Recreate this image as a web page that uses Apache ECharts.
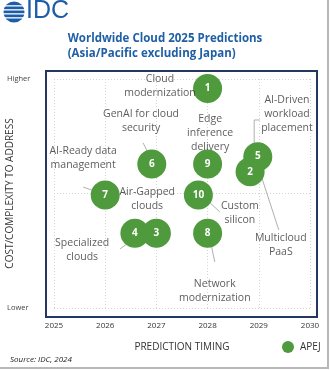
<!DOCTYPE html>
<html><head><meta charset="utf-8">
<script src="https://cdn.jsdelivr.net/npm/echarts@6/dist/echarts.min.js"></script>
<style>html,body{margin:0;padding:0;background:#fff}#c{width:330px;height:370px}</style>
</head><body><div id="c"></div>
<script>
// ---- data ----
const yearTicks = [2025, 2026, 2027, 2028, 2029, 2030];
const bubbleIds = [1, 4, 3, 5, 2, 6, 7, 8, 9, 10];
const bubbleX = [2028.0, 2026.58, 2027.0, 2028.98, 2028.83, 2026.91, 2026.0, 2028.0, 2028.0, 2027.82];
const bubbleY = [9.59, 3.26, 3.26, 6.61, 5.95, 6.29, 4.93, 3.26, 6.29, 4.93];
const labelTexts = ["Cloud\nmodernization", "GenAI for cloud\nsecurity", "AI-Ready data\nmanagement", "Air-Gapped\nclouds", "Edge\ninference\ndelivery", "AI-Driven\nworkload\nplacement", "Custom\nsilicon", "Multicloud\nPaaS", "Network\nmodernization", "Specialized\nclouds"];
const labelX = [2027.07, 2026.70, 2025.57, 2026.82, 2028.05, 2029.55, 2028.63, 2029.43, 2028.14, 2025.55];
const labelY = [9.69, 8.17, 6.53, 4.74, 7.62, 8.47, 4.15, 2.75, 0.74, 2.53];
const leaderLines = [
  [[2026.74, 7.21], [2026.84, 6.77]],
  [[2025.57, 5.28], [2025.84, 5.07]],
  [[2029.02, 8.21], [2028.91, 8.21], [2028.91, 7.12]],
  [[2028.05, 4.59], [2028.24, 4.19]],
  [[2029.06, 5.68], [2029.39, 3.41]],
  [[2028.03, 3.19], [2028.14, 2.01]],
  [[2026.29, 2.58], [2026.42, 2.79]]
];
const yTickNames = {0: "Lower", 10: "Higher"};
const seriesName = "APEJ";

const GREEN = "#4e9a3c";
const NAVY = "#24385f";
const FONT = "Open Sans";
const chart = echarts.init(document.getElementById('c'), null, {renderer: 'canvas'});
chart.setOption({
  animation: false,
  textStyle: {fontFamily: FONT},
  grid: {left: 54, right: 20, top: 79, bottom: 62, containLabel: false, outerBoundsMode: 'none'},
  xAxis: {type: 'value', min: yearTicks[0], max: yearTicks[yearTicks.length - 1], interval: 1,
     axisLine: {show: false}, axisTick: {show: false},
     axisLabel: {fontSize: 8, color: '#333', margin: 14, formatter: v => yearTicks.includes(v) ? String(v) : ''},
     splitLine: {show: true, lineStyle: {color: '#d4d4d4', type: [1, 2], width: 1}},
     name: 'PREDICTION TIMING', nameLocation: 'middle', nameGap: 34, nameMoveOverlap: false,
     nameTextStyle: {fontSize: 10, color: '#333', fontFamily: FONT}},
  yAxis: {type: 'value', min: 0, max: 10, interval: 5,
     axisLine: {show: false}, axisTick: {show: false},
     axisLabel: {fontSize: 7.5, color: '#444', align: 'left', margin: 47, formatter: v => yTickNames[v] || ''},
     splitLine: {show: true, lineStyle: {color: '#d4d4d4', type: [1, 2], width: 1}},
     name: 'COST/COMPLEXITY TO ADDRESS', nameLocation: 'middle', nameGap: 39, nameRotate: 90, nameMoveOverlap: false,
     nameTextStyle: {fontSize: 10, color: '#333', fontFamily: FONT}},
  legend: {
    data: [{name: seriesName, icon: 'circle'}], left: 277, top: 336, itemWidth: 12, itemHeight: 12, itemGap: 4,
    textStyle: {fontSize: 10, color: '#333', fontFamily: FONT, padding: [0, 0, 0, 1]}
  },
  graphic: {elements: [
    {type: 'rect', z: 10, shape: {x: 45, y: 70, width: 273, height: 2}, style: {fill: NAVY}},
    {type: 'rect', z: 10, shape: {x: 45, y: 316, width: 273, height: 2}, style: {fill: NAVY}},
    {type: 'rect', z: 10, shape: {x: 45, y: 70, width: 2, height: 248}, style: {fill: NAVY}},
    {type: 'rect', z: 10, shape: {x: 316, y: 70, width: 2, height: 248}, style: {fill: NAVY}},
    {type: 'rect', z: 10, shape: {x: 327, y: 0, width: 2, height: 369}, style: {fill: '#b8b8b8'}},
    {type: 'rect', z: 10, shape: {x: 0, y: 367, width: 329, height: 2}, style: {fill: '#b8b8b8'}},
    {type: 'circle', z: 10, shape: {cx: 14, cy: 12, r: 10.5}, style: {fill: '#1c5ca8'}},
    {type: 'rect', z: 11, shape: {x: 2, y: 5.2, width: 24, height: 1.3}, style: {fill: '#fff'}},
    {type: 'rect', z: 11, shape: {x: 2, y: 9.2, width: 24, height: 1.3}, style: {fill: '#fff'}},
    {type: 'rect', z: 11, shape: {x: 2, y: 13.2, width: 24, height: 1.3}, style: {fill: '#fff'}},
    {type: 'rect', z: 11, shape: {x: 2, y: 17.2, width: 24, height: 1.3}, style: {fill: '#fff'}},
    {type: 'text', z: 10, left: 26, top: -1, style: {text: 'IDC', font: '25px "Liberation Sans"', fill: '#1c5ca8'}},
    {type: 'text', z: 10, left: 'center', top: 31, style: {text: 'Worldwide Cloud 2025 Predictions\n(Asia/Pacific excluding Japan)', font: 'bold 11.5px "Open Sans"', fill: '#1f5fa6', align: 'center', lineHeight: 15}},
    {type: 'text', z: 10, left: 10, top: 356, style: {text: 'Source: IDC, 2024', font: 'italic 8px "Open Sans"', fill: '#222'}}
  ]},
  series: [
    {type: 'lines', coordinateSystem: 'cartesian2d', polyline: true, silent: true, z: 1,
     lineStyle: {color: '#9a9a9a', width: 0.8, opacity: 1},
     data: leaderLines.map(c => ({coords: c}))},
    {type: 'scatter', name: 'labels', symbolSize: 0, silent: true, clip: false, z: 3,
     label: {show: true, position: 'inside', formatter: p => p.name, fontSize: 10.5, color: '#333', lineHeight: 14, align: 'center', fontFamily: FONT},
     data: labelTexts.map((t, i) => ({name: t, value: [labelX[i], labelY[i]]}))},
    {type: 'scatter', name: seriesName, symbolSize: 29, clip: true, z: 2,
     itemStyle: {color: GREEN, opacity: 1},
     label: {show: true, position: 'inside', formatter: p => p.name, fontSize: 10, fontWeight: 'bold', color: '#fff', fontFamily: FONT},
     data: bubbleIds.map((id, i) => ({name: String(id), value: [bubbleX[i], bubbleY[i]]}))}
  ]
});
</script></body></html>
